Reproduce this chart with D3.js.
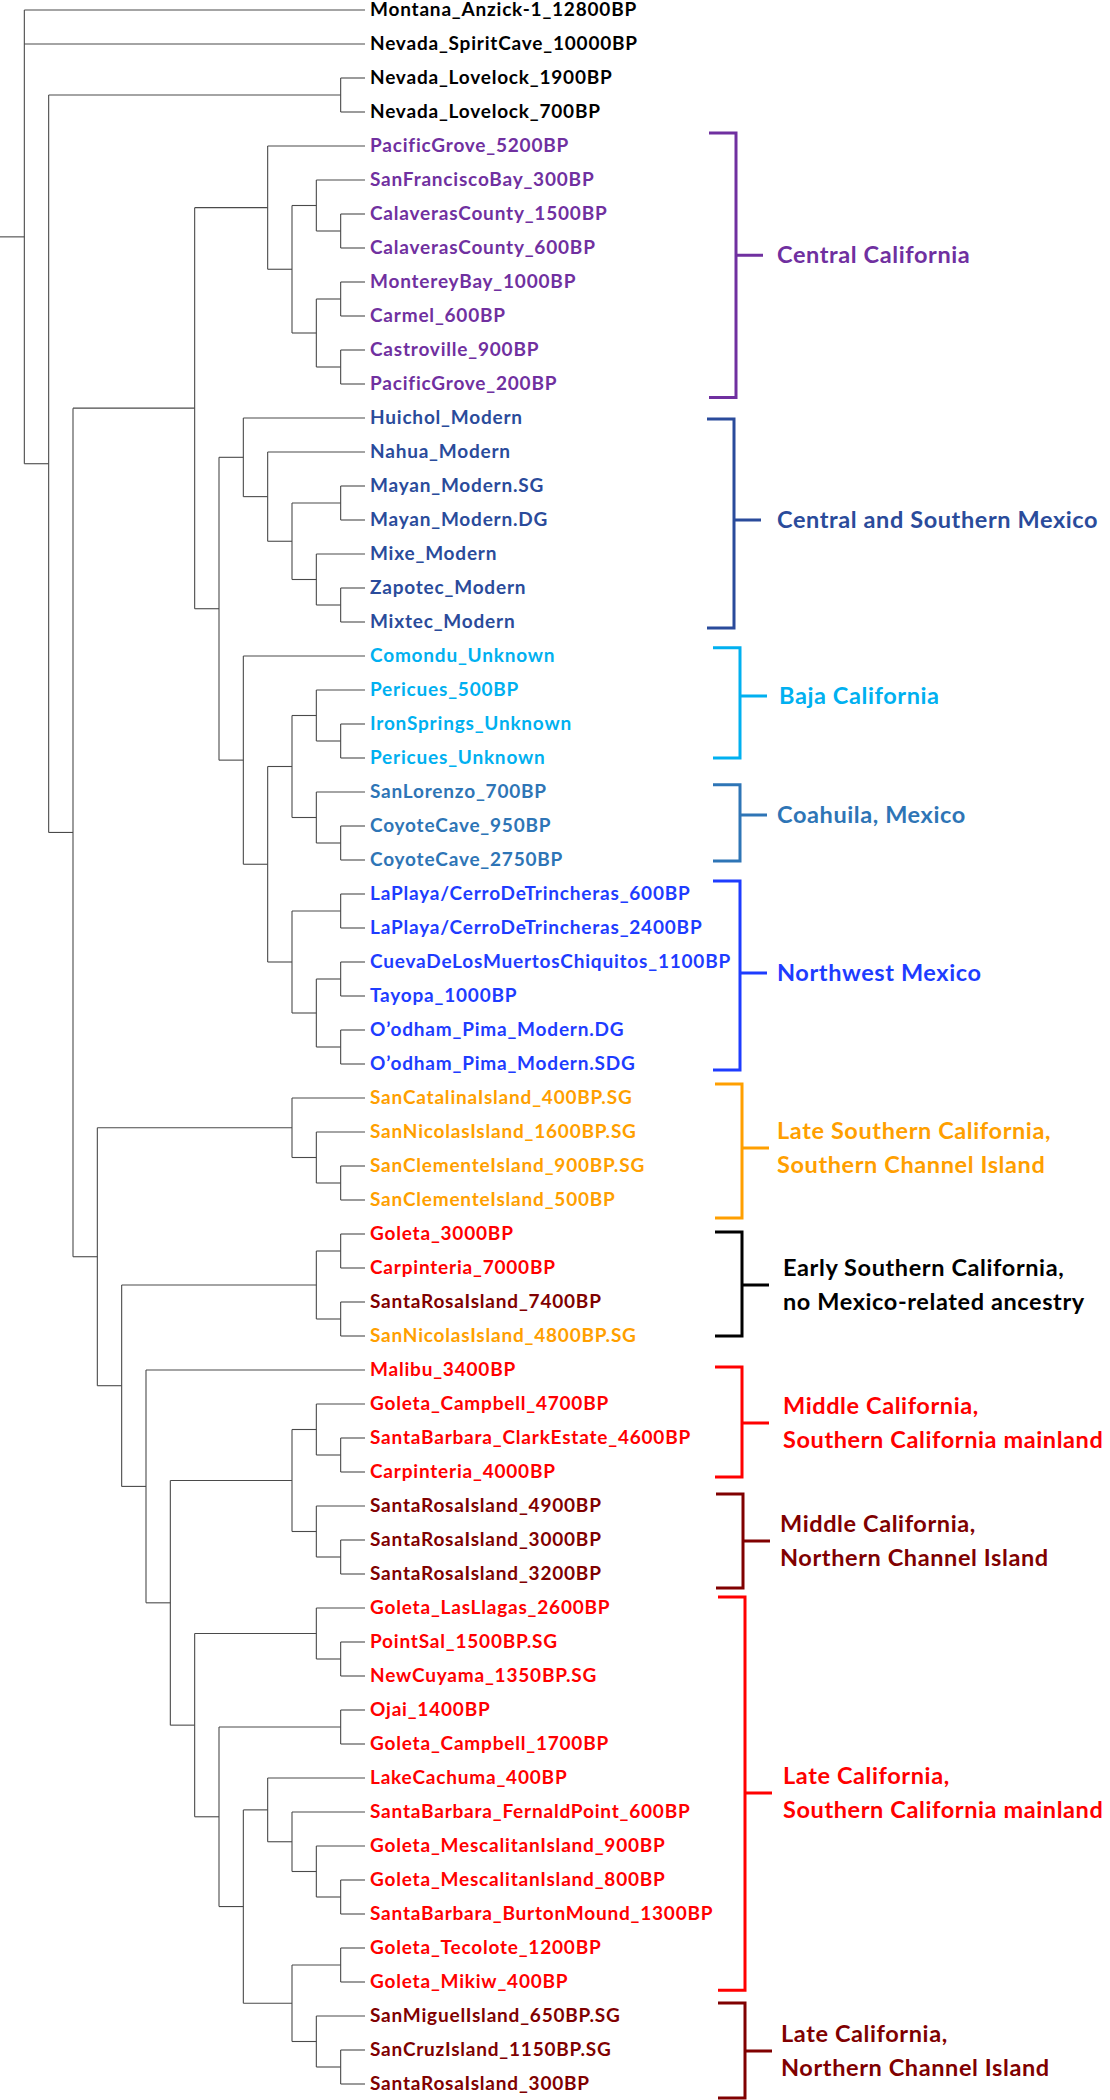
<!DOCTYPE html>
<html><head><meta charset="utf-8">
<script src="https://cdn.jsdelivr.net/npm/d3@7"></script>
<style>
body{margin:0;background:#fff}
text{font-family:Lato,"Open Sans",sans-serif;font-weight:700}
</style>
</head><body>
<svg id="chart" width="1110" height="2100"></svg>
<script>
// ---------- DATA ----------
const leafNames = [
 "Montana_Anzick-1_12800BP","Nevada_SpiritCave_10000BP","Nevada_Lovelock_1900BP","Nevada_Lovelock_700BP",
 "PacificGrove_5200BP","SanFranciscoBay_300BP","CalaverasCounty_1500BP","CalaverasCounty_600BP",
 "MontereyBay_1000BP","Carmel_600BP","Castroville_900BP","PacificGrove_200BP",
 "Huichol_Modern","Nahua_Modern","Mayan_Modern.SG","Mayan_Modern.DG","Mixe_Modern","Zapotec_Modern","Mixtec_Modern",
 "Comondu_Unknown","Pericues_500BP","IronSprings_Unknown","Pericues_Unknown",
 "SanLorenzo_700BP","CoyoteCave_950BP","CoyoteCave_2750BP",
 "LaPlaya/CerroDeTrincheras_600BP","LaPlaya/CerroDeTrincheras_2400BP","CuevaDeLosMuertosChiquitos_1100BP",
 "Tayopa_1000BP","O\u2019odham_Pima_Modern.DG","O\u2019odham_Pima_Modern.SDG",
 "SanCatalinaIsland_400BP.SG","SanNicolasIsland_1600BP.SG","SanClementeIsland_900BP.SG","SanClementeIsland_500BP",
 "Goleta_3000BP","Carpinteria_7000BP","SantaRosaIsland_7400BP","SanNicolasIsland_4800BP.SG",
 "Malibu_3400BP","Goleta_Campbell_4700BP","SantaBarbara_ClarkEstate_4600BP","Carpinteria_4000BP",
 "SantaRosaIsland_4900BP","SantaRosaIsland_3000BP","SantaRosaIsland_3200BP",
 "Goleta_LasLlagas_2600BP","PointSal_1500BP.SG","NewCuyama_1350BP.SG","Ojai_1400BP","Goleta_Campbell_1700BP",
 "LakeCachuma_400BP","SantaBarbara_FernaldPoint_600BP","Goleta_MescalitanIsland_900BP","Goleta_MescalitanIsland_800BP",
 "SantaBarbara_BurtonMound_1300BP","Goleta_Tecolote_1200BP","Goleta_Mikiw_400BP",
 "SanMiguelIsland_650BP.SG","SanCruzIsland_1150BP.SG","SantaRosaIsland_300BP"
];
// category of each leaf label
const leafCategory = [
 "out","out","out","out",
 "cc","cc","cc","cc","cc","cc","cc","cc",
 "mx","mx","mx","mx","mx","mx","mx",
 "bc","bc","bc","bc",
 "co","co","co",
 "nw","nw","nw","nw","nw","nw",
 "ls","ls","ls","ls",
 "ms","ms","nc","ls",
 "ms","ms","ms","ms",
 "nc","nc","nc",
 "ms","ms","ms","ms","ms","ms","ms","ms","ms","ms","ms","ms",
 "nc","nc","nc"
];
// tree topology: [nodeLevel, child, child, ...]; numbers = leaf indices
const treeSpec =
 [1, 0, 1,
   [2, [14, 2, 3],
     [3,
       [8,
         [11, 4, [12, [13, 5, [14, 6, 7]], [13, [14, 8, 9], [14, 10, 11]]]],
         [9,
           [10, 12, [11, 13, [12, [14, 14, 15], [13, 16, [14, 17, 18]]]]],
           [10, 19,
             [11,
               [12, [13, 20, [14, 21, 22]], [13, 23, [14, 24, 25]]],
               [12, [14, 26, 27], [13, [14, 28, 29], [14, 30, 31]]]]]]],
       [4,
         [12, 32, [13, 33, [14, 34, 35]]],
         [5,
           [13, [14, 36, 37], [14, 38, 39]],
           [6, 40,
             [7,
               [12, [13, 41, [14, 42, 43]], [13, 44, [14, 45, 46]]],
               [8,
                 [13, 47, [14, 48, 49]],
                 [9, [14, 50, 51],
                   [10,
                     [11, 52, [12, 53, [13, 54, [14, 55, 56]]]],
                     [12, [14, 57, 58], [13, 59, [14, 60, 61]]]]]]]]]]]]];
const leafLevel = 15;

// clade annotations (bracket extents in leaf-row units)
const groupLabels = [
 ["Central California"],
 ["Central and Southern Mexico"],
 ["Baja California"],
 ["Coahuila, Mexico"],
 ["Northwest Mexico"],
 ["Late Southern California,","Southern Channel Island"],
 ["Early Southern California,","no Mexico-related ancestry"],
 ["Middle California,","Southern California mainland"],
 ["Middle California,","Northern Channel Island"],
 ["Late California,","Southern California mainland"],
 ["Late California,","Northern Channel Island"]
];
const groupCategory = ["cc","mx","bc","co","nw","ls","out","ms","nc","ms","nc"];
const groupTop    = [3.62, 12.03, 18.76, 22.79, 25.62, 31.59, 35.94, 39.91, 43.65, 46.68, 58.62];
const groupBottom = [11.40, 18.18, 22.00, 25.03, 31.18, 35.53, 39.00, 43.15, 46.41, 58.24, 61.41];
const groupTick   = [7.21, 15.00, 20.18, 23.68, 28.32, 33.47, 37.50, 41.56, 45.03, 52.44, 60.03];

// ---------- STYLE ----------
const colors = {out:"#000000", cc:"#7030A0", mx:"#2A4B9B", bc:"#00B0F0", co:"#2E75B6",
                nw:"#1E3CFF", ls:"#FF9F00", ms:"#FF0000", nc:"#800000"};
const bracketX = [736, 734, 740, 740, 740, 742, 742, 742, 743, 745, 745];
const labelGap = [41, 43, 39, 37, 37, 35, 41, 41, 37, 38, 36];

const svg = d3.select("#chart");
const x = d3.scaleLinear().domain([0, leafLevel]).range([0, 365]);
const y = d3.scaleLinear().domain([0, leafNames.length - 1]).range([10, 2084]);

// build hierarchy
function build(spec) {
  if (typeof spec === "number") return {leaf: spec, level: leafLevel};
  return {level: spec[0], children: spec.slice(1).map(build)};
}
const root = d3.hierarchy(build(treeSpec));
root.eachAfter(n => {
  if (n.data.leaf !== undefined) n.py = y(n.data.leaf);
  else n.py = (n.children[0].py + n.children[n.children.length - 1].py) / 2;
  n.px = x(n.data.level);
});

const gLinks = svg.append("g").attr("stroke", "#4a4a4a").attr("stroke-width", 1.1).attr("fill", "none");
// root stem
gLinks.append("line").attr("x1", x(0)).attr("x2", root.px).attr("y1", root.py).attr("y2", root.py);
root.each(n => {
  if (!n.children) return;
  const c0 = n.children[0], c1 = n.children[n.children.length - 1];
  gLinks.append("line").attr("x1", n.px).attr("x2", n.px).attr("y1", c0.py).attr("y2", c1.py);
  n.children.forEach(c => {
    gLinks.append("line").attr("x1", n.px).attr("x2", c.px).attr("y1", c.py).attr("y2", c.py);
  });
});

// leaf labels
svg.append("g").selectAll("text").data(leafNames).join("text")
  .attr("x", x(leafLevel) + 5)
  .attr("y", (d, i) => y(i))
  .attr("dy", "0.3em")
  .attr("font-size", 19)
  .attr("letter-spacing", 0.8)
  .attr("fill", (d, i) => colors[leafCategory[i]])
  .text(d => d);

// brackets
const gB = svg.append("g");
groupLabels.forEach((lines, i) => {
  const c = colors[groupCategory[i]];
  const bx = bracketX[i], t = y(groupTop[i]), b = y(groupBottom[i]), m = y(groupTick[i]);
  gB.append("path")
    .attr("d", `M${bx - 27},${t}H${bx}V${b}H${bx - 27}M${bx},${m}H${bx + 27}`)
    .attr("fill", "none").attr("stroke", c).attr("stroke-width", 3);
  const lx = bx + labelGap[i];
  const tx = gB.append("text").attr("x", lx).attr("font-size", 23.5)
    .attr("letter-spacing", 0.6).attr("fill", c);
  if (lines.length === 1) {
    tx.append("tspan").attr("x", lx).attr("y", m).attr("dy", "0.35em").text(lines[0]);
  } else {
    lines.forEach((l, k) => tx.append("tspan").attr("x", lx).attr("y", m - 9 + k * 34).text(l));
  }
});
</script>
</body></html>
